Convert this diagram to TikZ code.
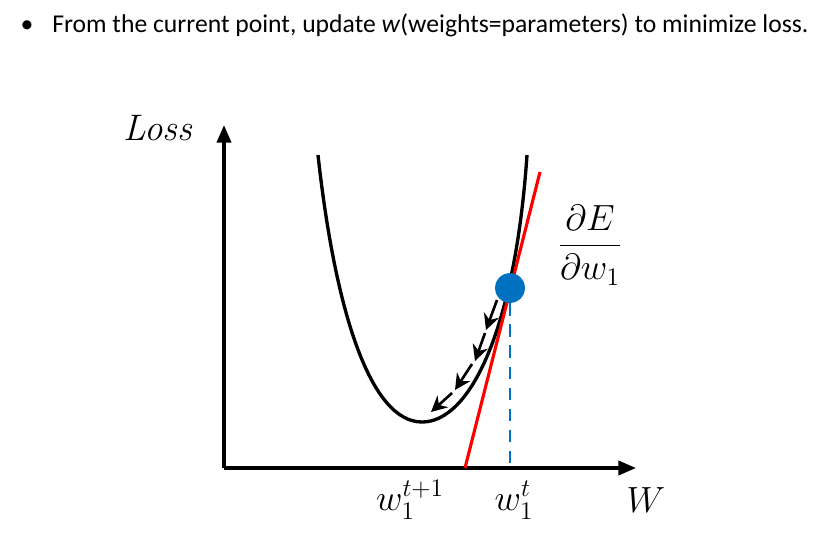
\documentclass[tikz,border=0pt]{standalone}
\usepackage{fontspec}
\setmainfont{Carlito}
\newfontfamily\lmserif{Latin Modern Roman}
\usetikzlibrary{arrows.meta, positioning}
\definecolor{dotblue}{RGB}{0,112,192}
\tikzset{
  axisline/.style={line width=2pt, -{Triangle[length=10pt,width=8pt]}},
  bigmath/.style={font=\fontsize{21}{25}\selectfont, inner sep=0pt},
  stepline/.style={line width=1.5pt, -{Stealth[length=9pt,width=9pt]}},
}

\begin{document}
\begin{tikzpicture}[x=0.02cm,y=-0.02cm]

\useasboundingbox (0,0) rectangle (817,539);

% Bullet line at the top
\node[anchor=base, inner sep=0pt, font=\fontsize{14.6}{17}\selectfont] (bullet) at (27,32) {\textbullet};
\node[anchor=base west, inner sep=0pt, font=\fontsize{14.6}{17}\selectfont] (title) at (52,32)
  {From the current point, update \textit{w}(weights=parameters) to minimize loss.};

% Axes
\coordinate (origin) at (224,468);
\coordinate (ytop) at (224,125);
\coordinate (xend) at (636,468);
\draw[axisline] (origin) -- (ytop);
\draw[axisline] (origin) -- (xend);

% Axis labels
\node[bigmath, anchor=base] (losslabel) at (158,140) {\lmserif\itshape Loss};
\node[bigmath, anchor=base] (wlabel) at (646,512) {$W$};

% Loss curve
\coordinate (minpt) at (422,422);
\draw[line width=1.9pt] (318,155) .. controls (335,310) and (370,422) .. (minpt)
  .. controls (470,422) and (515,330) .. (527,155);

% Tangent line
\coordinate (tanlow) at (465,468);
\coordinate (tanhigh) at (540,172);
\draw[red, line width=1.8pt] (tanlow) -- (tanhigh);

% Current point and its drop to the axis
\node[circle, fill=dotblue, minimum size=17pt, inner sep=0pt] (current) at (510,288) {};
\coordinate (wt) at (510,468);
\draw[dotblue, line width=1.4pt, dash pattern=on 7pt off 5pt] (current) -- (wt);

% Descent steps
\foreach \a/\b/\c/\d in {497/300/486/330, 485/333/475/361, 472/364/455/390, 452/393/431/412}
{
    \draw[stepline] (\a,\b) -- (\c,\d);
}

% Gradient
\node[bigmath] (grad) at (590,245) {$\displaystyle\frac{\partial E}{\partial w_1}$};

% Weight labels
\node[bigmath, anchor=base] (wnext) at (410,510) {$w_1^{t+1}$};
\node[bigmath, anchor=base] (wcur) at (514,510) {$w_1^{t}$};

\end{tikzpicture}
\end{document}
